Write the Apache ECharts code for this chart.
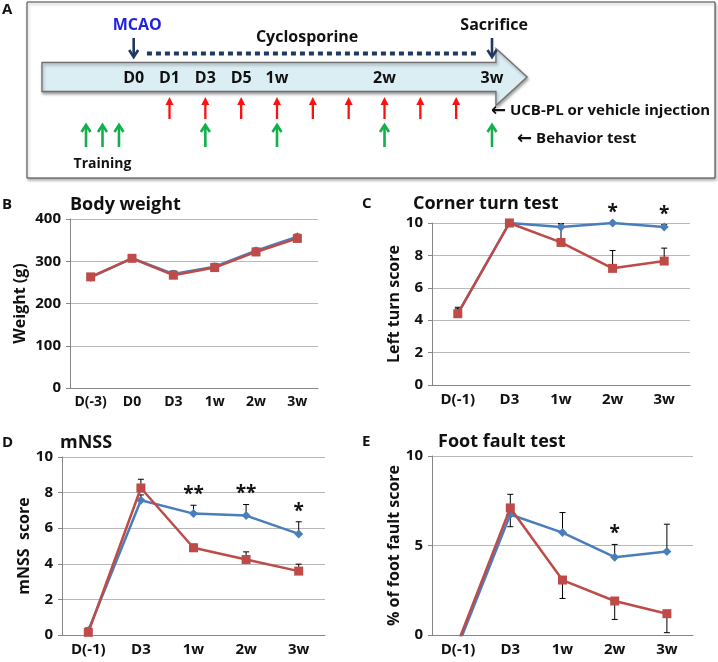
<!DOCTYPE html>
<html><head><meta charset="utf-8">
<script src="https://cdn.jsdelivr.net/npm/echarts@6/dist/echarts.min.js"></script>
<style>html,body{margin:0;padding:0;background:#fff}#c{width:718px;height:662px}</style>
</head><body><div id="c"></div>
<script>
// ---------- Panel A: timeline (slot units along the arrow) ----------
const timeLabels = ['D0','D1','D3','D5','1w','2w','3w'];
const timeSlots = [0,1,2,3,4,7,10];
const injectionSlots = [1,2,3,4,5,6,7,8,9];
const behaviorSlots = [2,4,7,10];
const trainingSlots = [-1.33,-0.87,-0.41];
const mcaoSlot = 0, sacrificeSlot = 10;
const cycloRange = [0.37, 9.58];

// ---------- Panel B: body weight ----------
const catsB = ['D(-3)','D0','D3','1w','2w','3w'];
const bBlue = [262,307,270,287,325,358];
const bBlueErr = [5,4,7,8,6,6];
const bRed = [263,307,267,285,322,354];
const bRedErr = [4,4,5,5,4,5];

// ---------- Panel C: corner turn ----------
const catsC = ['D(-1)','D3','1w','2w','3w'];
const cBlue = [4.4,10,9.75,10,9.75];
const cBlueErr = [0.3,0,0.2,0,0.15];
const cRed = [4.4,10,8.8,7.2,7.65];
const cRedErr = [0.4,0,1.15,1.1,0.8];
const cStars = ['','','','*','*'];

// ---------- Panel D: mNSS ----------
const catsD = ['D(-1)','D3','1w','2w','3w'];
const dBlue = [0.25,7.57,6.82,6.71,5.68];
const dBlueErr = [0.15,0.3,0.47,0.62,0.68];
const dRed = [0.15,8.26,4.9,4.24,3.59];
const dRedErr = [0.1,0.49,0.2,0.43,0.39];
const dStars = ['','','**','**','*'];

// ---------- Panel E: foot fault ----------
const catsE = ['D(-1)','D3','1w','2w','3w'];
const eBlue = [-0.6,6.73,5.72,4.35,4.67];
const eBlueErr = [0,1.13,1.12,0.71,1.52];
const eRed = [-0.4,7.1,3.07,1.9,1.19];
const eRedErr = [0,1.05,1.03,1.03,1.06];
const eStars = ['','','','*',''];

const FONT = '"Open Sans","Noto Sans",sans-serif';
const BLUE = '#4a7ebb', RED = '#be4b48';
const NAVY = '#1f3864';

// layout of panel A rows (px from top of the box)
const L = {topText:23, cycloText:35, downTail:36, downHead:55, dotted:51.5,
  bodyMid:75, bodyHalf:14.5, headHalf:28.5, timeText:76,
  redTail:117, redHead:95, ucbText:109, greenTail:145, greenHead:123, behText:137, trainText:162,
  bodyStart:-2.56, headBack:10.11, tip:10.98};

const chart = echarts.init(document.getElementById('c'), null, {renderer:'canvas'});

function vArrow(color, kind, lw) {
  return function(params, api) {
    const x = api.value(0);
    const p0 = api.coord([x, api.value(1)]), p1 = api.coord([x, api.value(2)]);
    const dir = p1[1] < p0[1] ? -1 : 1;
    const hl = 7, hw = 4.5;
    const ch = [];
    if (kind === 'fill') {
      ch.push({type:'line', shape:{x1:p0[0],y1:p0[1],x2:p1[0],y2:p1[1]-dir*5}, style:{stroke:color,lineWidth:lw}});
      ch.push({type:'polygon', shape:{points:[[p1[0],p1[1]],[p1[0]-4,p1[1]-dir*8],[p1[0]+4,p1[1]-dir*8]]}, style:{fill:color}});
    } else {
      ch.push({type:'line', shape:{x1:p0[0],y1:p0[1],x2:p1[0],y2:p1[1]-dir*1}, style:{stroke:color,lineWidth:lw}});
      ch.push({type:'polyline', shape:{points:[[p1[0]-hw,p1[1]-dir*hl],[p1[0],p1[1]],[p1[0]+hw,p1[1]-dir*hl]]}, style:{stroke:color,lineWidth:lw,fill:null}});
    }
    return {type:'group', children:ch};
  };
}

function textSeries(items) {
  return {type:'custom', xAxisIndex:0, yAxisIndex:0, z:10,
    data: items.map(it => [it.x, it.y]),
    renderItem: (params, api) => {
      const it = items[params.dataIndex];
      const p = api.coord([api.value(0), api.value(1)]);
      const sz = it.size || 15;
      const st = {text:it.text, font:'bold '+sz+'px '+FONT,
        fill:it.color||'#111', align:it.align||'center', verticalAlign:'middle'};
      if (it.arrow) {
        st.text = '{a|\u2190} ' + it.text;
        st.rich = {a:{font:'bold '+(sz+3)+'px "DejaVu Sans",sans-serif', fill:'#111', verticalAlign:'middle'}};
      }
      return {type:'text', x:p[0], y:p[1], style:st};
    }};
}

const series = [];
// big arrow
series.push({type:'custom', xAxisIndex:0, yAxisIndex:0, z:2,
  data:[[L.bodyStart, L.headBack, L.tip]],
  renderItem:(params, api) => {
    const s = api.value(0), b = api.value(1), t = api.value(2);
    const c = (x,y) => api.coord([x,y]);
    const pts = [c(s, L.bodyMid-L.bodyHalf), c(b, L.bodyMid-L.bodyHalf), c(b, L.bodyMid-L.headHalf),
      c(t, L.bodyMid), c(b, L.bodyMid+L.headHalf), c(b, L.bodyMid+L.bodyHalf), c(s, L.bodyMid+L.bodyHalf)];
    return {type:'polygon', shape:{points:pts}, style:{fill:'#dbeef4', stroke:'#6f6f6f', lineWidth:1.3,
      shadowBlur:3, shadowOffsetX:1, shadowOffsetY:2, shadowColor:'rgba(0,0,0,0.35)'}};
  }});
// cyclosporine dotted line
series.push({type:'line', xAxisIndex:0, yAxisIndex:0, symbol:'none', z:3,
  data:[[cycloRange[0], L.dotted],[cycloRange[1], L.dotted]],
  lineStyle:{color:NAVY, width:4, type:[5,4], cap:'butt'}});
// down arrows
series.push({type:'custom', xAxisIndex:0, yAxisIndex:0, z:4,
  data:[[mcaoSlot, L.downTail, L.downHead],[sacrificeSlot, L.downTail, L.downHead]],
  renderItem: vArrow(NAVY, 'open', 2.6)});
// red injection arrows
series.push({type:'custom', xAxisIndex:0, yAxisIndex:0, z:4,
  data: injectionSlots.map(s => [s, L.redTail, L.redHead]),
  renderItem: vArrow('#ff1010', 'fill', 2.3)});
// green behavior arrows
series.push({type:'custom', xAxisIndex:0, yAxisIndex:0, z:4,
  data: trainingSlots.concat(behaviorSlots).map(s => [s, L.greenTail, L.greenHead]),
  renderItem: vArrow('#12b04a', 'open', 2.6)});
// timepoint labels
series.push(textSeries(timeLabels.map((t,i) => ({text:t, x:timeSlots[i], y:L.timeText, size:16}))));
// annotations
series.push(textSeries([
  {text:'MCAO', x:mcaoSlot+0.1, y:L.topText, color:'#2222dd', size:16},
  {text:'Sacrifice', x:sacrificeSlot+0.06, y:L.topText, size:16},
  {text:'Cyclosporine', x:4.84, y:L.cycloText, size:16},
  {text:'UCB-PL or vehicle injection', x:sacrificeSlot-0.03, y:L.ucbText, align:'left', size:15, arrow:true},
  {text:'Behavior test', x:sacrificeSlot+0.7, y:L.behText, align:'left', size:15, arrow:true},
  {text:'Training', x:trainingSlots[1], y:L.trainText, size:14}
]));

const grids = [
  {left:27, top:2, width:688, height:176, show:true, borderColor:'#404040', borderWidth:1, backgroundColor:'#fff',
    shadowBlur:3, shadowOffsetX:1, shadowOffsetY:2, shadowColor:'rgba(0,0,0,0.3)'},
  {left:70, top:219, width:248, height:169},
  {left:432, top:223, width:258, height:162},
  {left:62, top:457, width:263, height:178},
  {left:432, top:456, width:261, height:179}
];
const xAxes = [{gridIndex:0, type:'value', min:-2.977, max:16.223, show:false}];
const yAxes = [{gridIndex:0, type:'value', min:0, max:176, inverse:true, show:false}];

function errSeries(gi, vals, errs, dir) {
  return {type:'custom', xAxisIndex:gi, yAxisIndex:gi, z:1,
    data: vals.map((v,i) => [i, v, v + dir*errs[i]]),
    renderItem:(params, api) => {
      const i = api.value(0);
      if (api.value(1) === api.value(2)) return null;
      const a = api.coord([i, api.value(1)]), b = api.coord([i, api.value(2)]);
      return {type:'group', children:[
        {type:'line', shape:{x1:a[0],y1:a[1],x2:b[0],y2:b[1]}, style:{stroke:'#000',lineWidth:1}},
        {type:'line', shape:{x1:b[0]-3,y1:b[1],x2:b[0]+3,y2:b[1]}, style:{stroke:'#000',lineWidth:1}}
      ]};
    }};
}
function starSeries(gi, vals, errs, stars) {
  return {type:'custom', xAxisIndex:gi, yAxisIndex:gi, z:6,
    data: vals.map((v,i) => [i, v + errs[i]]),
    renderItem:(params, api) => {
      const t = stars[params.dataIndex];
      if (!t) return null;
      const p = api.coord([api.value(0), api.value(1)]);
      return {type:'text', x:p[0], y:p[1]-1, style:{text:t, font:'bold 19px '+FONT, fill:'#111', align:'center', verticalAlign:'bottom'}};
    }};
}

function addPanel(gi, cats, blue, blueErr, red, redErr, redDir, stars, yMax, yInt, yName, nameGap, xFont) {
  xAxes.push({gridIndex:gi, type:'category', data:cats, boundaryGap:true,
    axisLine:{lineStyle:{color:'#868686', width:1}}, axisTick:{show:false},
    axisLabel:{color:'#111', fontFamily:FONT, fontWeight:'bold', fontSize:xFont, margin:7, interval:0}});
  yAxes.push({gridIndex:gi, type:'value', min:0, max:yMax, interval:yInt,
    axisLine:{show:true, lineStyle:{color:'#868686', width:1}},
    axisTick:{show:true, length:4, lineStyle:{color:'#868686'}},
    splitLine:{lineStyle:{color:'#b8b8b8', width:1}},
    axisLabel:{color:'#111', fontFamily:FONT, fontWeight:'bold', fontSize:15, margin:9},
    name:yName, nameLocation:'middle', nameGap:nameGap,
    nameTextStyle:{color:'#111', fontFamily:FONT, fontWeight:'bold', fontSize:16}});
  series.push(errSeries(gi, blue, blueErr, 1));
  series.push(errSeries(gi, red, redErr, redDir));
  series.push({type:'line', xAxisIndex:gi, yAxisIndex:gi, data:blue, z:3,
    symbol:'diamond', symbolSize:9, itemStyle:{color:BLUE}, lineStyle:{color:BLUE, width:2.5}});
  series.push({type:'line', xAxisIndex:gi, yAxisIndex:gi, data:red, z:4,
    symbol:'rect', symbolSize:9, itemStyle:{color:RED}, lineStyle:{color:RED, width:2.5}});
  if (stars) series.push(starSeries(gi, blue, blueErr, stars));
}
addPanel(1, catsB, bBlue, bBlueErr, bRed, bRedErr, 1, null, 400, 100, 'Weight (g)', 42, 14);
addPanel(2, catsC, cBlue, cBlueErr, cRed, cRedErr, 1, cStars, 10, 2, 'Left turn score', 26, 15);
addPanel(3, catsD, dBlue, dBlueErr, dRed, dRedErr, 1, dStars, 10, 2, 'mNSS  score', 26, 15);
addPanel(4, catsE, eBlue, eBlueErr, eRed, eRedErr, -1, eStars, 10, 5, '% of foot fault score', 30, 15);

function gtext(text, x, y, size, color) {
  return {type:'text', x:x, y:y, style:{text:text, font:'bold '+size+'px '+FONT, fill:color||'#111', verticalAlign:'middle', align:'left'}};
}

chart.setOption({
  animation:false,
  grid:grids, xAxis:xAxes, yAxis:yAxes, series:series,
  graphic:[
    gtext('A', 2, 10, 15),
    gtext('B', 2, 205, 15), gtext('Body weight', 70, 205, 18),
    gtext('C', 362, 204, 15), gtext('Corner turn test', 413, 204, 18),
    gtext('D', 2, 443, 15), gtext('mNSS', 60, 443, 18),
    gtext('E', 362, 442, 15), gtext('Foot fault test', 438, 442, 18)
  ]
});
</script>
</body></html>
